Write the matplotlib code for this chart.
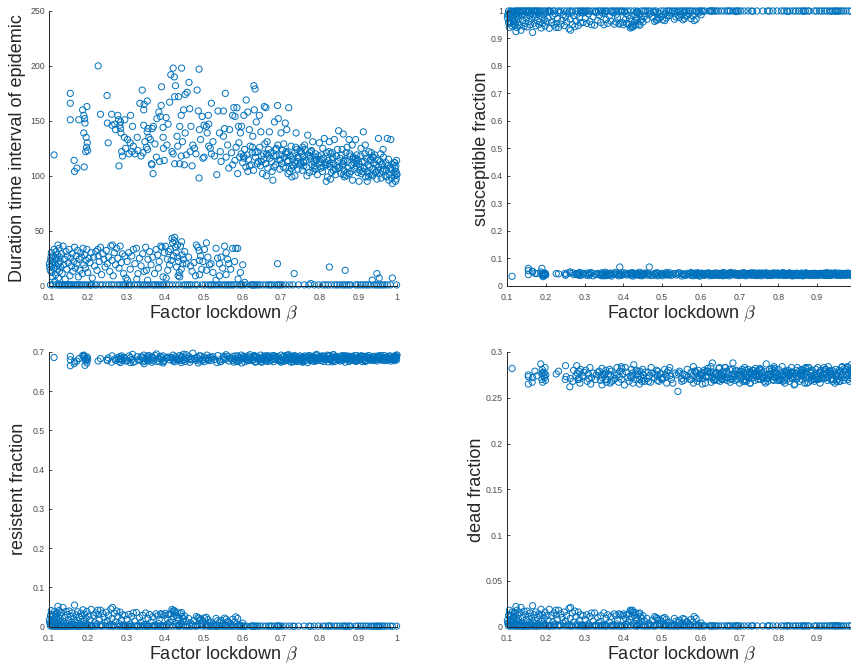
import numpy as np
import matplotlib
matplotlib.use("Agg")
import matplotlib.pyplot as plt

plt.rcParams['font.family'] = ['Liberation Sans', 'DejaVu Sans']
plt.rcParams['mathtext.fontset'] = 'cm'

# ---------------- data (beta and fractions in thousandths) ----------------
# simulations that developed an epidemic
beta_epi_k = [
    113,155,155,155,165,166,172,177,187,190,
    191,192,193,190,195,196,197,198,199,200,
    227,233,250,251,253,262,263,270,272,278,
    280,281,283,285,286,288,290,295,298,285,
    296,303,307,310,311,314,316,322,328,330,
    335,341,343,345,345,346,354,354,355,356,
    358,362,365,366,367,369,370,378,379,384,
    386,388,390,391,395,395,398,403,408,412,
    415,421,421,424,425,425,427,431,435,438,
    438,442,442,443,445,448,450,452,452,457,
    462,464,467,470,472,480,483,486,488,488,
    489,492,496,501,501,507,509,512,513,513,
    520,520,524,534,537,541,545,551,551,554,
    556,558,565,567,575,575,578,581,581,586,
    588,590,591,593,595,598,604,610,614,618,
    318,338,352,374,396,418,433,455,476,498,
    517,528,543,562,572,584,597,348,405,465,
    627,630,631,633,636,644,648,657,661,603,
    601,606,609,612,616,620,623,626,629,634,
    638,641,645,647,650,652,655,658,660,663,
    666,668,670,671,674,676,679,681,683,686,
    688,691,693,695,697,700,700,664,677,692,
    702,704,706,709,711,713,715,717,720,722,
    724,726,728,730,733,735,737,739,741,744,
    746,748,749,707,718,731,742,716,727,738,
    751,753,755,757,759,762,764,766,769,771,
    773,776,778,780,782,785,787,789,792,794,
    796,798,799,756,767,779,791,761,774,786,
    801,803,805,807,810,812,814,817,817,820,
    822,825,827,829,831,834,836,838,840,843,
    845,847,849,808,816,824,833,841,846,828,
    851,853,855,857,860,861,863,866,868,870,
    872,874,876,879,881,883,885,887,889,891,
    893,895,897,899,858,864,871,878,884,894,
    901,902,904,906,908,910,913,915,917,919,
    921,923,925,927,929,931,933,936,938,940,
    942,944,946,948,950,952,907,918,926,934,
    953,955,957,959,961,963,965,967,969,971,
    973,975,976,978,980,982,984,986,988,990,
    992,993,994,995,996,997,998,999,1000,964,
    614,639,662,689,712,736,758,783,809,835,
    862,886,911,937,958,979,997,947,923,871,
    604,619,633,649,667,682,698,713,729,744,
    759,775,790,804,819,833,848,862,877,892,
    905,916,928,939,951,962,974,985,994,999,
    626,655,686,718,752,788,826,859,896,932,
]
dur_epi = [
    119,175,166,151,114,104,107,151,160,155,
    108,152,148,139,122,135,126,163,130,123,
    200,156,173,148,130,156,146,147,142,155,
    151,109,146,143,139,122,118,135,125,149,
    151,133,120,130,155,122,145,120,135,123,
    166,178,121,146,160,165,168,140,124,143,
    135,133,111,110,143,102,145,117,152,158,
    113,154,164,181,144,135,114,153,147,167,
    192,198,120,190,172,111,182,136,172,145,
    111,155,118,198,131,160,110,174,139,176,
    185,161,145,109,128,120,178,159,197,98,
    142,133,154,146,117,145,139,155,147,127,
    166,120,131,101,159,139,113,159,136,143,
    175,117,107,142,155,110,162,154,114,162,
    102,145,130,117,139,145,155,169,158,142,
    127,118,126,129,125,122,127,119,125,116,
    125,118,122,128,121,126,120,131,128,122,
    136,182,160,179,149,155,140,163,162,118,
    112,124,108,119,115,127,110,121,105,117,
    122,113,126,109,118,102,115,129,111,120,
    107,124,140,116,121,113,96,118,149,110,
    125,164,152,114,106,139,119,131,104,128,
    111,123,108,117,148,120,142,113,162,104,
    118,127,99,115,109,121,112,139,124,106,
    116,110,123,129,102,118,113,121,107,126,
    112,120,105,117,109,124,114,108,137,119,
    103,116,122,110,131,113,107,120,114,101,
    118,111,130,126,100,123,115,128,121,109,
    113,107,119,104,116,134,110,95,121,99,
    114,131,108,120,103,117,111,133,106,118,
    109,113,141,125,112,122,115,101,124,97,
    108,116,102,119,111,138,105,114,121,100,
    113,107,133,118,104,110,96,117,112,106,
    133,109,115,103,124,99,126,120,128,113,
    111,95,105,118,102,113,140,107,120,99,
    116,104,110,122,108,114,101,117,106,112,
    119,103,110,97,114,134,125,128,99,121,
    108,102,113,98,111,104,117,106,100,112,
    105,134,109,115,101,107,133,98,93,110,
    103,112,100,107,95,104,97,114,101,124,
    104,111,100,118,107,100,113,104,108,105,
    101,115,104,100,120,96,109,104,95,103,
    116,109,121,113,119,108,115,122,110,117,
    112,118,106,115,110,121,107,113,102,116,
    108,113,102,117,105,110,99,106,112,102,
    126,120,124,114,122,117,111,109,119,115,
]
S_epi_k = [
    34,63,55,40,53,50,45,44,50,63,
    40,36,33,44,42,46,38,41,45,39,
    44,43,45,38,42,50,46,47,40,43,
    41,44,39,46,42,48,37,43,45,40,
    42,39,46,37,44,41,48,36,43,40,
    45,38,41,47,36,43,40,49,39,44,
    37,44,42,39,46,41,35,43,48,40,
    43,36,45,68,41,38,47,42,39,44,
    40,46,38,43,35,47,42,39,45,41,
    44,37,49,40,43,36,45,41,38,46,
    39,45,68,42,37,44,40,47,36,43,
    46,38,42,36,45,40,43,48,39,41,
    41,47,37,44,39,42,46,35,43,40,
    43,39,45,41,48,37,42,44,36,46,
    38,44,40,47,42,36,45,39,43,41,
    45,41,36,43,39,46,40,44,38,42,
    40,43,47,38,44,41,35,42,46,39,
    42,37,44,40,46,39,43,36,41,45,
    44,40,38,45,41,47,36,43,39,42,
    39,46,42,37,43,40,44,48,38,41,
    41,38,45,42,36,44,39,46,43,40,
    46,42,39,44,40,37,45,41,48,38,
    38,43,41,47,39,45,42,36,44,40,
    43,40,46,38,42,39,47,41,37,45,
    40,45,37,43,41,46,38,44,42,39,
    44,39,42,36,45,41,43,40,47,38,
    37,43,40,45,39,42,46,38,41,44,
    42,46,38,41,44,37,43,45,39,40,
    45,40,43,39,41,48,37,44,42,38,
    39,44,41,46,38,43,40,36,45,42,
    43,38,45,40,42,39,44,41,37,46,
    40,42,37,44,46,39,41,43,38,45,
    46,39,43,41,37,44,40,42,45,38,
    38,45,40,43,41,36,46,39,42,44,
    42,37,44,39,45,41,43,38,40,46,
    44,41,38,46,40,43,37,45,39,42,
    39,43,46,41,44,38,42,40,47,37,
    41,46,39,43,37,45,40,42,44,38,
    45,38,42,40,46,39,44,41,37,43,
    40,44,41,37,43,46,39,45,42,38,
    43,39,46,42,38,41,45,40,44,36,
    38,42,40,45,39,43,41,46,37,44,
    41,44,38,45,40,43,37,46,42,39,
    44,40,46,39,42,38,45,41,43,37,
    39,43,41,45,38,44,42,40,46,41,
    42,38,44,40,46,39,43,37,41,45,
]
R_epi_k = [
    686,689,665,680,670,675,677,683,691,689,
    683,688,666,692,680,677,684,672,687,681,
    677,683,680,678,685,674,690,682,679,686,
    681,676,688,673,684,690,679,686,677,682,
    684,678,690,673,686,681,694,676,688,680,
    679,687,675,692,683,670,689,681,677,685,
    691,680,686,674,688,678,683,695,676,684,
    675,689,681,686,672,690,679,684,687,680,
    686,677,692,680,684,675,688,682,679,691,
    680,685,673,689,678,694,681,676,687,683,
    688,674,684,681,697,679,686,672,690,682,
    677,690,680,687,675,683,692,678,685,681,
    685,679,688,673,691,680,676,689,682,686,
    681,693,677,685,679,688,674,683,690,676,
    690,676,686,680,684,672,689,681,678,687,
    674,688,682,691,676,685,680,693,684,679,
    687,681,675,689,683,678,692,677,686,680,
    679,686,691,676,688,682,675,690,681,685,
    683,675,687,681,678,693,684,679,689,674,
    688,682,679,692,674,687,681,686,677,690,
    676,690,684,678,686,680,691,675,683,687,
    685,679,688,683,677,692,674,689,680,682,
    680,687,676,690,684,678,686,681,693,677,
    689,674,683,686,680,691,678,684,676,688,
    677,685,690,679,687,675,683,692,681,684,
    684,680,676,688,682,690,679,686,673,689,
    691,678,685,681,689,676,683,680,694,679,
    679,688,682,674,686,684,691,677,685,681,
    686,683,678,690,676,689,681,684,680,692,
    675,689,684,680,687,678,693,682,676,686,
    688,681,679,685,683,691,675,688,684,680,
    682,677,690,684,679,686,681,674,689,683,
    687,684,676,689,682,680,688,685,678,691,
    680,691,685,678,684,687,682,679,686,676,
    684,679,688,682,690,676,685,681,677,689,
    678,686,683,691,680,684,679,688,682,685,
    689,682,680,677,687,683,690,676,684,681,
    683,688,686,680,682,679,685,691,678,687,
    681,685,679,689,684,690,677,683,686,680,
    686,678,690,683,681,685,688,680,692,684,
    690,683,681,686,679,688,684,687,682,693,
    684,687,689,680,691,682,686,684,688,690,
    683,679,687,681,685,690,678,684,688,682,
    686,681,677,689,683,687,680,691,684,679,
    682,688,684,679,690,683,686,681,687,692,
    680,685,689,683,678,686,682,688,681,684,
]
D_epi_k = [
    282,273,265,275,267,272,279,274,287,276,
    281,267,278,270,274,277,272,283,269,275,
    276,279,270,285,273,262,271,268,280,274,
    285,277,270,279,272,266,281,274,278,270,
    273,280,268,276,271,283,265,277,270,275,
    278,269,275,264,282,272,277,270,280,267,
    270,276,281,266,274,279,268,275,271,283,
    275,267,273,279,284,270,276,264,278,272,
    268,281,272,277,266,274,286,270,275,279,
    276,270,265,279,273,268,281,275,271,278,
    271,278,274,267,283,272,276,280,269,274,
    279,268,276,272,270,281,275,266,278,273,
    274,283,270,277,275,257,279,271,268,276,
    269,275,281,273,278,270,274,284,266,279,
    277,272,268,280,271,276,265,278,273,282,
    272,279,275,269,282,274,280,268,277,271,
    280,266,277,274,270,279,272,276,283,268,
    267,288,273,278,275,269,283,274,270,277,
    275,271,280,266,279,273,277,284,272,269,
    270,277,274,282,268,275,271,279,276,273,
    278,269,272,276,281,267,274,270,288,275,
    273,280,276,270,274,278,266,283,271,279,
    276,272,279,268,277,283,270,275,273,281,
    271,278,266,275,280,272,276,269,282,274,
    279,270,275,281,268,277,273,280,266,276,
    274,282,270,277,272,279,268,275,287,271,
    268,275,281,273,279,270,277,284,272,278,
    277,269,274,280,266,276,282,271,275,273,
    281,273,270,277,284,268,275,279,266,278,
    270,280,276,268,275,283,271,277,273,265,
    276,271,283,274,269,278,272,264,280,275,
    273,279,268,276,281,270,278,274,266,282,
    279,266,275,283,272,277,269,280,274,271,
    268,276,281,270,278,274,283,267,279,275,
    275,283,270,278,266,280,273,276,271,279,
    281,272,277,269,284,275,279,270,276,268,
    270,278,266,281,274,270,277,283,272,276,
    277,274,280,268,279,272,284,275,269,282,
    272,281,275,283,270,277,268,279,286,274,
    279,270,278,274,281,266,276,271,277,283,
    274,277,283,269,276,280,273,282,270,278,
    280,273,271,277,268,284,279,275,281,272,
    274,279,270,277,272,281,275,268,278,273,
    277,272,280,269,275,278,271,276,283,270,
    271,276,273,280,268,275,279,272,277,282,
    278,270,276,273,281,269,277,274,272,279,
]

# simulations with a small outbreak that died out
beta_small_k = [
    101,102,103,104,105,106,107,108,109,110,
    111,112,113,114,115,116,117,118,119,120,
    121,122,123,124,125,126,127,128,129,130,
    132,134,136,138,140,142,144,146,148,150,
    152,154,156,158,160,162,164,166,168,170,
    172,174,176,178,180,182,184,186,188,190,
    192,194,196,198,200,203,206,209,212,215,
    218,221,224,227,230,233,236,239,242,245,
    248,251,254,257,260,263,266,269,272,275,
    278,281,284,287,290,293,296,299,264,226,
    302,306,310,314,318,322,326,330,334,338,
    342,346,350,352,356,360,364,368,373,377,
    381,385,389,392,395,398,303,327,355,383,
    401,403,406,409,412,414,416,418,420,422,
    424,425,427,429,430,432,433,435,437,438,
    440,442,444,446,448,451,455,407,434,443,
    461,466,470,475,479,481,485,488,489,489,
    492,495,498,502,507,507,511,515,519,524,
    532,532,536,541,541,545,549,554,558,558,
    562,565,570,575,580,583,588,589,595,601,
    691,734,825,866,936,948,954,988,606,777,
]
dur_small = [
    20,17,14,23,26,30,12,19,8,22,
    27,16,33,21,4,25,10,31,18,24,
    15,28,37,7,20,34,13,26,22,17,
    29,11,36,19,24,6,31,15,27,21,
    33,9,25,18,29,13,22,35,16,27,
    20,32,8,24,14,30,26,11,34,19,
    28,16,23,33,12,25,21,30,7,26,
    18,31,14,27,22,35,10,29,24,17,
    32,20,26,13,36,23,9,30,19,34,
    25,16,36,21,29,11,27,7,37,33,
    22,30,15,27,33,20,34,11,25,18,
    29,13,35,14,24,31,19,26,11,33,
    28,22,36,35,8,30,5,6,5,16,
    36,7,24,31,19,33,23,43,39,27,
    41,44,35,30,17,37,26,22,12,8,
    36,15,28,20,24,31,20,14,9,40,
    26,18,13,21,9,37,35,32,23,10,
    27,15,22,33,39,14,26,19,20,12,
    34,5,25,20,9,26,16,36,30,10,
    24,20,15,34,22,34,34,6,12,19,
    20,11,17,14,5,11,7,7,3,2,
]
S_small_k = [
    975,985,990,960,955,940,993,980,996,972,
    958,987,945,976,998,963,994,950,983,967,
    989,952,925,997,978,940,992,957,970,985,
    948,994,930,982,966,998,944,988,955,974,
    942,995,962,984,950,991,971,922,986,956,
    977,946,996,965,989,951,960,993,938,981,
    954,987,970,945,992,961,975,937,997,958,
    984,949,990,955,972,940,994,952,966,986,
    947,978,960,992,935,970,995,951,982,943,
    963,988,947,975,957,994,958,997,930,940,
    972,955,989,962,950,979,948,994,966,984,
    958,992,950,991,969,955,982,963,994,952,
    960,975,952,955,997,958,998,998,998,988,
    950,997,970,955,984,952,972,938,943,962,
    941,945,950,960,988,948,966,975,993,997,
    952,989,963,979,970,960,980,990,995,948,
    970,986,992,978,995,962,966,968,976,994,
    972,990,980,968,965,991,974,985,983,993,
    970,998,978,984,995,976,988,968,973,994,
    981,984,990,972,982,965,970,997,993,986,
    998,999,998,999,999,999,999,999,999,1000,
]
R_small_k = [
    17,10,7,27,31,41,5,14,3,19,
    29,9,38,16,1,25,4,34,12,23,
    8,33,52,2,15,41,5,30,21,10,
    36,4,49,13,24,1,39,8,31,18,
    40,3,26,11,35,6,20,55,10,30,
    16,38,3,24,8,34,28,5,43,13,
    32,9,21,39,5,27,17,44,2,29,
    11,35,7,31,19,42,4,34,24,10,
    37,15,28,5,45,21,3,34,12,40,
    26,8,37,17,30,4,29,2,49,42,
    19,31,7,26,35,14,36,4,23,11,
    29,5,35,6,21,31,12,25,4,33,
    28,17,33,31,2,29,1,1,1,8,
    34,2,20,31,11,33,19,44,40,26,
    41,38,35,28,8,36,23,17,5,2,
    33,8,26,14,20,27,13,7,3,36,
    21,10,5,15,3,26,23,22,16,4,
    19,7,14,22,24,6,18,10,11,5,
    21,1,15,11,3,16,8,22,19,4,
    13,11,7,19,12,25,21,2,4,9,
    2,1,2,1,1,1,1,1,1,1,
]
D_small_k = [
    7,4,3,12,13,18,2,6,1,8,
    12,4,16,7,1,11,2,15,5,10,
    3,14,22,1,6,18,2,13,9,4,
    15,2,21,5,10,1,17,3,13,8,
    17,1,11,5,15,3,9,23,4,13,
    7,16,1,10,3,14,12,2,19,6,
    13,4,9,16,2,12,7,19,1,12,
    5,15,3,13,8,18,2,14,10,4,
    16,6,12,2,20,9,1,15,5,17,
    11,3,16,7,13,2,12,1,21,18,
    8,13,3,11,15,6,15,2,10,5,
    12,2,15,2,9,13,5,11,2,14,
    12,7,14,13,1,12,1,1,1,3,
    14,1,9,13,5,14,8,18,17,11,
    18,16,15,12,3,15,10,7,2,1,
    14,3,11,6,9,12,6,3,1,15,
    9,4,2,7,1,11,10,9,7,2,
    8,3,6,9,10,2,8,4,5,2,
    9,1,6,5,1,7,3,9,8,2,
    5,5,3,8,5,11,9,1,2,4,
    1,1,1,1,1,1,1,1,1,1,
]

# simulations where the infection never spread (values sit on the axis)
beta_zero_k = [
    104,110,118,124,127,131,135,139,143,147,
    151,155,158,163,168,171,175,179,183,188,
    194,199,205,208,211,219,223,232,238,247,
    255,262,268,277,283,289,294,298,304,309,
    313,321,329,336,341,347,353,358,366,371,
    376,382,387,393,397,404,411,419,428,436,
    447,453,458,464,469,478,484,497,504,512,
    517,521,527,533,539,546,552,557,563,568,
    573,578,586,594,598,603,611,622,625,628,
    631,635,640,645,653,661,668,672,676,683,
    690,694,698,703,712,722,731,745,760,772,
    786,797,808,815,822,830,839,845,852,859,
    864,870,876,880,893,899,906,912,919,925,
    932,941,946,951,957,963,968,975,983,999,
]
dur_zero_value = 0.7
S_zero_value = 1.0
R_zero_value = 0.0015
D_zero_value = 0.0008

x_ticks = [0.1, 0.2, 0.3, 0.4, 0.5, 0.6, 0.7, 0.8, 0.9, 1.0]
x_tick_labels = ['0.1', '0.2', '0.3', '0.4', '0.5', '0.6', '0.7', '0.8', '0.9', '1']
# the right-hand panels run past the picture's edge, so their last label is not shown
x_tick_labels_right = ['0.1', '0.2', '0.3', '0.4', '0.5', '0.6', '0.7', '0.8', '0.9', '']

# ---------------- assemble ----------------
b_epi = np.array(beta_epi_k) / 1000
b_small = np.array(beta_small_k) / 1000
b_zero = np.array(beta_zero_k) / 1000
beta_all = np.concatenate([b_epi, b_small, b_zero])

dur_all = np.concatenate([dur_epi, dur_small, np.full(len(b_zero), dur_zero_value)])
S_all = np.concatenate([np.array(S_epi_k) / 1000, np.array(S_small_k) / 1000,
                        np.full(len(b_zero), S_zero_value)])
R_all = np.concatenate([np.array(R_epi_k) / 1000, np.array(R_small_k) / 1000,
                        np.full(len(b_zero), R_zero_value)])
D_all = np.concatenate([np.array(D_epi_k) / 1000, np.array(D_small_k) / 1000,
                        np.full(len(b_zero), D_zero_value)])

BLUE = '#0072BD'
AX_COL = '#262626'

fig = plt.figure(figsize=(8.51, 6.65), dpi=100)

panels = [
    dict(pos=[0.0576, 0.5704, 0.4089, 0.4131], y=dur_all, ylim=(0, 250),
         yticks=[0, 50, 100, 150, 200, 250], ylabels=['0', '50', '100', '150', '200', '250'],
         ylabel='Duration time interval of epidemic', lx=-0.079, xl=x_tick_labels),
    dict(pos=[0.5958, 0.5704, 0.4098, 0.4131], y=S_all, ylim=(0, 1),
         yticks=[0, .1, .2, .3, .4, .5, .6, .7, .8, .9, 1],
         ylabels=['0', '0.1', '0.2', '0.3', '0.4', '0.5', '0.6', '0.7', '0.8', '0.9', '1'],
         ylabel='susceptible fraction', lx=-0.060, xl=x_tick_labels_right),
    dict(pos=[0.0576, 0.0576, 0.4089, 0.4131], y=R_all, ylim=(0, 0.7),
         yticks=[0, .1, .2, .3, .4, .5, .6, .7],
         ylabels=['0', '0.1', '0.2', '0.3', '0.4', '0.5', '0.6', '0.7'],
         ylabel='resistent fraction', lx=-0.0746, xl=x_tick_labels),
    dict(pos=[0.5958, 0.0576, 0.4098, 0.4131], y=D_all, ylim=(0, 0.3),
         yticks=[0, .05, .1, .15, .2, .25, .3],
         ylabels=['0', '0.05', '0.1', '0.15', '0.2', '0.25', '0.3'],
         ylabel='dead fraction', lx=-0.075, xl=x_tick_labels_right),
]

for p in panels:
    ax = fig.add_axes(p['pos'])
    ax.scatter(beta_all, p['y'], s=20, facecolors='none', edgecolors=BLUE,
               linewidths=0.7, clip_on=False, zorder=1)
    ax.set_xlim(0.1, 1.0)
    ax.set_ylim(*p['ylim'])
    ax.set_xticks(x_ticks)
    ax.set_xticklabels(p['xl'])
    ax.set_yticks(p['yticks'])
    ax.set_yticklabels(p['ylabels'])
    for s in ['top', 'right']:
        ax.spines[s].set_visible(False)
    for s in ['left', 'bottom']:
        ax.spines[s].set_color(AX_COL)
        ax.spines[s].set_linewidth(0.7)
        ax.spines[s].set_zorder(3)
    ax.tick_params(direction='in', length=2.5, width=0.6, colors=AX_COL,
                   labelcolor='#4a4a4a', labelsize=6.3)
    ax.tick_params(axis='x', pad=5)
    ax.tick_params(axis='y', pad=3)
    ax.set_xlabel(r'Factor lockdown $\beta$', fontsize=13, color=AX_COL)
    ax.xaxis.label.set_verticalalignment('baseline')
    ax.xaxis.set_label_coords(0.5, -0.120)
    ax.set_ylabel(p['ylabel'], fontsize=13, color=AX_COL)
    ax.yaxis.label.set_verticalalignment('baseline')
    ax.yaxis.set_label_coords(p['lx'], 0.5)
    ax.patch.set_alpha(0)

fig.savefig('out.png', dpi=100)
